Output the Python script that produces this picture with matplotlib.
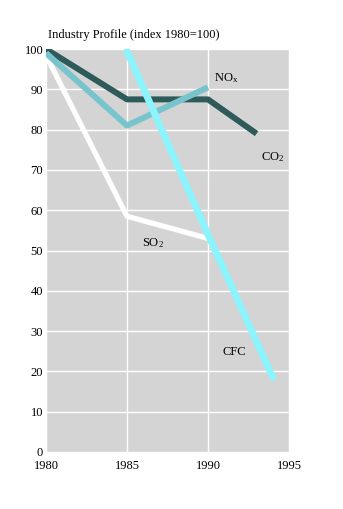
import matplotlib.pyplot as plt

# Emission indices, 1980 = 100
co2_years = [1980, 1985, 1990, 1993]
co2_vals = [100, 87.5, 87.5, 79]

nox_years = [1980, 1985, 1990]
nox_vals = [99, 81, 90.5]

so2_years = [1980, 1985, 1990]
so2_vals = [98.5, 58.5, 53]

cfc_years = [1985, 1990, 1994]
cfc_vals = [99.5, 54, 18.5]

x_ticks = [1980, 1985, 1990, 1995]
y_ticks = list(range(0, 101, 10))

plt.rcParams['font.family'] = ['Liberation Serif', 'DejaVu Serif']
plt.rcParams['mathtext.default'] = 'regular'

fig = plt.figure(figsize=(3.43, 5.09), dpi=100)
ax = fig.add_axes([0.134, 0.112, 0.7085, 0.7917])
ax.set_facecolor('#d4d4d4')

# lines, bottom to top
ax.plot(so2_years, so2_vals, color='white', lw=3.8, solid_capstyle='butt')
ax.plot(co2_years, co2_vals, color='#2e5a5a', lw=4.3, solid_capstyle='butt')
ax.plot(nox_years, nox_vals, color='#78c4cc', lw=4.3, solid_capstyle='butt')
ax.plot(cfc_years, cfc_vals, color='#8cf4fc', lw=5.0, solid_capstyle='round')

ax.set_xlim(1980, 1995)
ax.set_ylim(0, 100)
ax.set_xticks(x_ticks)
ax.set_yticks(y_ticks)
ax.grid(True, color='white', lw=1.0)
ax.set_axisbelow(True)
ax.tick_params(length=0, labelsize=9)
ax.tick_params(axis='x', pad=6)
ax.tick_params(axis='y', pad=2)
for s in ax.spines.values():
    s.set_visible(False)

# series labels
ax.text(1990.4, 92, 'NO$_x$', fontsize=9)
ax.text(1993.3, 72.5, 'CO$_2$', fontsize=9)
ax.text(1985.9, 51, 'SO$_2$', fontsize=9)
ax.text(1990.9, 24, 'CFC', fontsize=9)

fig.text(0.14, 0.925, 'Industry Profile (index 1980=100)', fontsize=9)

fig.savefig('out.png', dpi=100)
